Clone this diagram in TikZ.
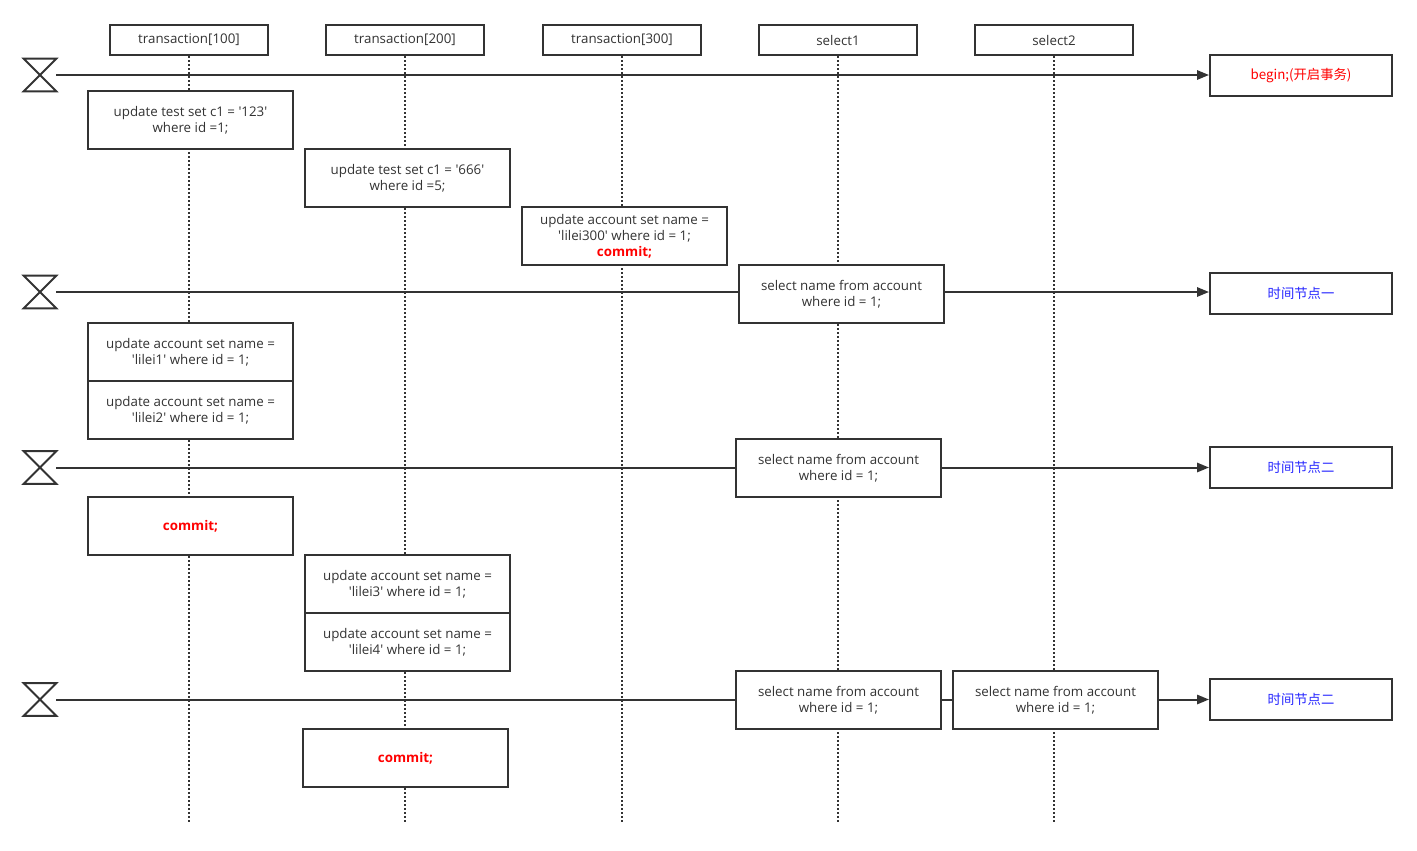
\documentclass[tikz,border=0pt]{standalone}
\usepackage{fontspec}
\setmainfont{Open Sans}[Ligatures=TeXOff]
\newfontfamily\cjk{Noto Sans CJK SC}
\usetikzlibrary{arrows.meta}
\definecolor{ink}{HTML}{333333}
\definecolor{hot}{HTML}{FF0000}
\definecolor{cool}{HTML}{2626FF}
\begin{document}
\begin{tikzpicture}[x=0.75pt,y=-0.75pt,
  every node/.style={font=\fontsize{10}{12}\selectfont, text=ink, inner sep=0pt},
  head/.style={draw=ink, line width=1.5pt, fill=white, minimum width=118.5pt, minimum height=22.5pt},
  stmt/.style={draw=ink, line width=1.5pt, fill=white, minimum width=153.75pt, minimum height=43.5pt, align=center},
  tag/.style={draw=ink, line width=1.5pt, fill=white, minimum width=136.5pt, minimum height=30.75pt, font=\cjk\fontsize{10}{12}\selectfont},
  glass/.style={minimum width=24pt, minimum height=24pt},
  life/.style={ink, line width=1.5pt, dash pattern=on 1.5pt off 1.5pt},
  wire/.style={ink, line width=1.5pt},
  arrowwire/.style={wire, -{Triangle[length=9pt,width=7pt]}},
  cmt/.style={text=hot, font=\bfseries\fontsize{10}{12}\selectfont}
]
\useasboundingbox (0,0) rectangle (1417,850);

% lifeline headers
\node[head] (hd1) at (189,40) {transaction[100]};
\node[head] (hd2) at (405,40) {transaction[200]};
\node[head] (hd3) at (622,40) {transaction[300]};
\node[head] (hd4) at (838,40) {select1};
\node[head] (hd5) at (1054,40) {select2};

% lifeline ends
\coordinate (e1) at (189,822);
\coordinate (e2) at (405,822);
\coordinate (e3) at (622,822);
\coordinate (e4) at (838,822);
\coordinate (e5) at (1054,822);
\foreach \i in {1,...,5} \draw[life] (hd\i.south) -- (e\i);

% time markers
\node[glass] (g1) at (40,75) {};
\node[glass] (g2) at (40,292) {};
\node[glass] (g3) at (40,467.5) {};
\node[glass] (g4) at (40,699.5) {};
\foreach \i in {1,...,4}
  \draw[wire, line join=miter] (g\i.north west) -- (g\i.north east) -- (g\i.south west) -- (g\i.south east) -- cycle;

% time point labels
\node[tag, text=hot] (t1) at (1301,75.5) {begin;(开启事务)};
\node[tag, text=cool] (t2) at (1301,293.5) {时间节点一};
\node[tag, text=cool] (t3) at (1301,467.5) {时间节点二};
\node[tag, text=cool] (t4) at (1301,699.5) {时间节点二};

% statements
\node[stmt] (s1) at (190.5,120) {update test set c1 = '123'\\where id =1;};
\node[stmt] (s2) at (407.5,178) {update test set c1 = '666'\\where id =5;};
\node[stmt] (s3) at (624.5,236) {update account set name =\\'lilei300' where id = 1;\\{\color{hot}\bfseries commit;}};
\node[stmt] (q1) at (841.5,294) {select name from account\\where id = 1;};
\node[stmt] (s4) at (190.5,352) {update account set name =\\'lilei1' where id = 1;};
\node[stmt] (s5) at (190.5,410) {update account set name =\\'lilei2' where id = 1;};
\node[stmt] (q2) at (838.5,468) {select name from account\\where id = 1;};
\node[stmt, cmt] (c1) at (190.5,526) {commit;};
\node[stmt] (s6) at (407.5,584) {update account set name =\\'lilei3' where id = 1;};
\node[stmt] (s7) at (407.5,642) {update account set name =\\'lilei4' where id = 1;};
\node[stmt] (q3) at (838.5,700) {select name from account\\where id = 1;};
\node[stmt] (q4) at (1055.5,700) {select name from account\\where id = 1;};
\node[stmt, cmt] (c2) at (405.5,758) {commit;};

% time lines
\draw[arrowwire] (g1.east) -- (t1.west |- g1.east);
\draw[wire] (g2.east) -- (q1.west |- g2.east);
\draw[arrowwire] (q1.east |- g2.east) -- (t2.west |- g2.east);
\draw[wire] (g3.east) -- (q2.west |- g3.east);
\draw[arrowwire] (q2.east |- g3.east) -- (t3.west |- g3.east);
\draw[wire] (g4.east) -- (q3.west |- g4.east);
\draw[wire] (q3.east |- g4.east) -- (q4.west |- g4.east);
\draw[arrowwire] (q4.east |- g4.east) -- (t4.west |- g4.east);
\end{tikzpicture}
\end{document}
